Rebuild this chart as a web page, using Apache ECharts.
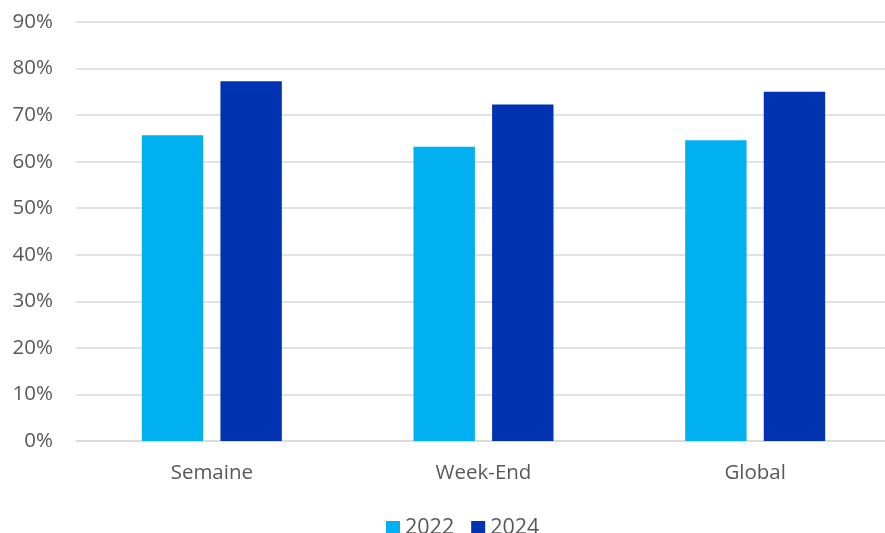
<!DOCTYPE html>
<html>
<head>
<meta charset="utf-8">
<script src="https://cdn.jsdelivr.net/npm/echarts@6/dist/echarts.min.js"></script>
<style>html,body{margin:0;padding:0;background:#fff;overflow:hidden;width:885px;height:533px}#c{width:891px;height:533px}</style>
</head>
<body>
<div id="c"></div>
<script>
const categories = ['Semaine', 'Week-End', 'Global'];
const seriesNames = ['2022', '2024'];
const values2022 = [65.7, 63.2, 64.6];
const values2024 = [77.3, 72.3, 75.0];
const yTicks = [0, 10, 20, 30, 40, 50, 60, 70, 80, 90];

const FONT = '"Open Sans", sans-serif';
const TXT = '#595959';
const chart = echarts.init(document.getElementById('c'), null, {renderer: 'canvas'});
chart.setOption({
  animation: false,
  textStyle: {fontFamily: FONT},
  grid: {left: 76, top: 22, right: 0, bottom: 92, containLabel: false},
  legend: {
    data: seriesNames,
    top: 512,
    left: 381,
    itemWidth: 14, itemHeight: 14, itemGap: 17,
    icon: 'rect',
    textStyle: {color: TXT, fontSize: 21.5, fontFamily: FONT, padding: [0, 0, 0, 0]}
  },
  xAxis: {
    type: 'category',
    data: categories,
    axisLine: {show: true, lineStyle: {color: '#d9d9d9', width: 1.5}},
    axisTick: {show: false},
    axisLabel: {color: TXT, fontSize: 20.5, fontFamily: FONT, margin: 22}
  },
  yAxis: {
    type: 'value',
    min: yTicks[0], max: yTicks[yTicks.length - 1], interval: 10,
    axisLine: {show: false},
    axisTick: {show: false},
    splitLine: {lineStyle: {color: '#d9d9d9', width: 1.5}},
    axisLabel: {color: TXT, fontSize: 20.5, fontFamily: FONT, margin: 23, formatter: v => v + '%'}
  },
  series: [
    {name: seriesNames[0], type: 'bar', data: values2022, barWidth: '22.6%', barGap: '28%', itemStyle: {color: '#00B0F0'}},
    {name: seriesNames[1], type: 'bar', data: values2024, barWidth: '22.6%', barGap: '28%', itemStyle: {color: '#0033B2'}}
  ]
});
</script>
</body>
</html>
